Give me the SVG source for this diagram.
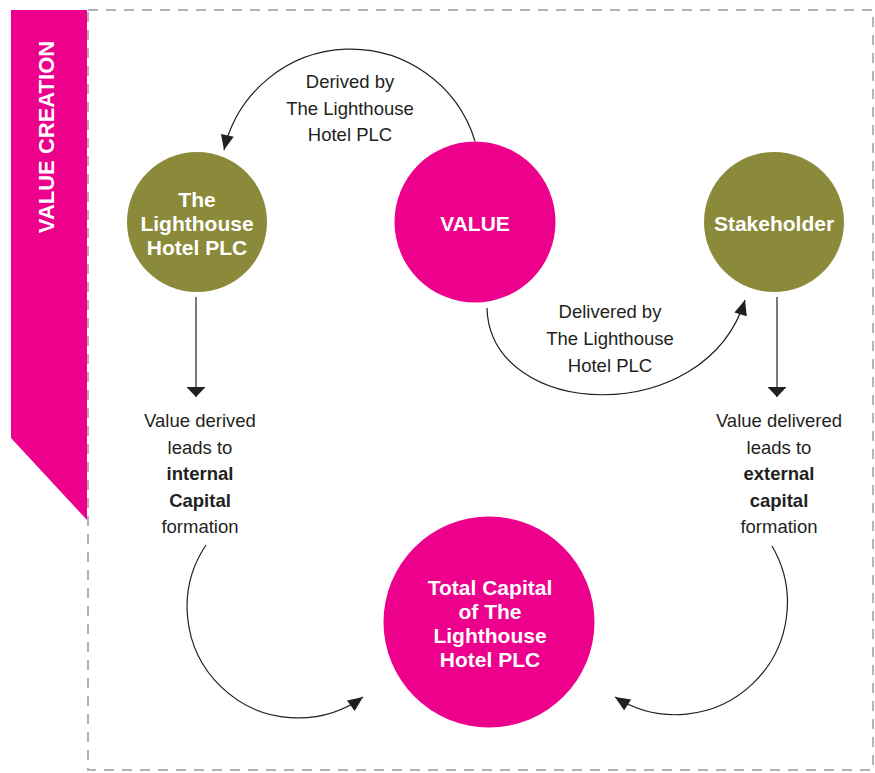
<svg xmlns="http://www.w3.org/2000/svg" width="875" height="773" viewBox="0 0 875 773">
<style>
.pink{fill:#EC008C}
.olive{fill:#8B8A3A}
.lbl{font-family:"Liberation Sans",Arial,sans-serif;font-size:18.5px;fill:#231F20;text-anchor:middle}
.b{font-weight:bold}
.ct{font-family:"Liberation Sans",Arial,sans-serif;font-size:21px;font-weight:bold;fill:#FFFFFF;text-anchor:middle}
.con{fill:none;stroke:#231F20;stroke-width:1.2}
</style>
<defs>
<marker id="ah" markerUnits="userSpaceOnUse" markerWidth="15" markerHeight="13" refX="15" refY="6.5" orient="auto" overflow="visible">
<path d="M0,0 L15,6.5 L0,13 z" fill="#231F20"/>
</marker>
<marker id="vh" markerUnits="userSpaceOnUse" markerWidth="10" markerHeight="19" refX="10" refY="9.5" orient="auto" overflow="visible">
<path d="M0,0 L10,9.5 L0,19 z" fill="#231F20"/>
</marker>
</defs>
<rect width="875" height="773" fill="#FFFFFF"/>
<g id="frame">
<rect x="88" y="10" width="785" height="760" fill="none" stroke="#B3B3B3" stroke-width="2" stroke-dasharray="10 8"/>
</g>
<g id="banner">
<path class="pink" d="M11,10 L87,10 L87,520 L11,438 z"/>
<text transform="translate(53.5,137) rotate(-90)" font-family="'Liberation Sans',Arial,sans-serif" font-size="22" font-weight="bold" fill="#FFFFFF" text-anchor="middle">VALUE CREATION</text>
</g>
<g id="connectors">
<path class="con" d="M475,141 A130,130 0 0 0 224,150" marker-end="url(#ah)"/>
<path class="con" d="M487,308 C490,420 705,430 745,300" marker-end="url(#ah)"/>
<path class="con" d="M196,297 L196,397" marker-end="url(#vh)"/>
<path class="con" d="M777,297 L777,397" marker-end="url(#vh)"/>
<path class="con" d="M206,545 A111,111 0 0 0 363,697" marker-end="url(#ah)"/>
<path class="con" d="M772,546 A112,112 0 0 1 615,697" marker-end="url(#ah)"/>
</g>
<g id="label-derived">
<text class="lbl" x="350" y="88">Derived by</text>
<text class="lbl" x="350" y="115">The Lighthouse</text>
<text class="lbl" x="350" y="141">Hotel PLC</text>
</g>
<g id="label-delivered">
<text class="lbl" x="610" y="318">Delivered by</text>
<text class="lbl" x="610" y="345">The Lighthouse</text>
<text class="lbl" x="610" y="372">Hotel PLC</text>
</g>
<g id="node-lighthouse">
<circle class="olive" cx="197" cy="222" r="70"/>
<text class="ct" x="197" y="207">The</text>
<text class="ct" x="197" y="231">Lighthouse</text>
<text class="ct" x="197" y="255">Hotel PLC</text>
</g>
<g id="node-value">
<circle class="pink" cx="475" cy="222" r="80.5"/>
<text class="ct" x="475" y="231">VALUE</text>
</g>
<g id="node-stakeholder">
<circle class="olive" cx="774" cy="222" r="70"/>
<text class="ct" x="774" y="231">Stakeholder</text>
</g>
<g id="node-total">
<circle class="pink" cx="489" cy="622" r="105.5"/>
<text class="ct" x="490" y="595">Total Capital</text>
<text class="ct" x="490" y="619">of The</text>
<text class="ct" x="490" y="643">Lighthouse</text>
<text class="ct" x="490" y="667">Hotel PLC</text>
</g>
<g id="label-internal">
<text class="lbl" x="200" y="427">Value derived</text>
<text class="lbl" x="200" y="454">leads to</text>
<text class="lbl b" x="200" y="480">internal</text>
<text class="lbl b" x="200" y="507">Capital</text>
<text class="lbl" x="200" y="533">formation</text>
</g>
<g id="label-external">
<text class="lbl" x="779" y="427">Value delivered</text>
<text class="lbl" x="779" y="454">leads to</text>
<text class="lbl b" x="779" y="480">external</text>
<text class="lbl b" x="779" y="507">capital</text>
<text class="lbl" x="779" y="533">formation</text>
</g>
</svg>
